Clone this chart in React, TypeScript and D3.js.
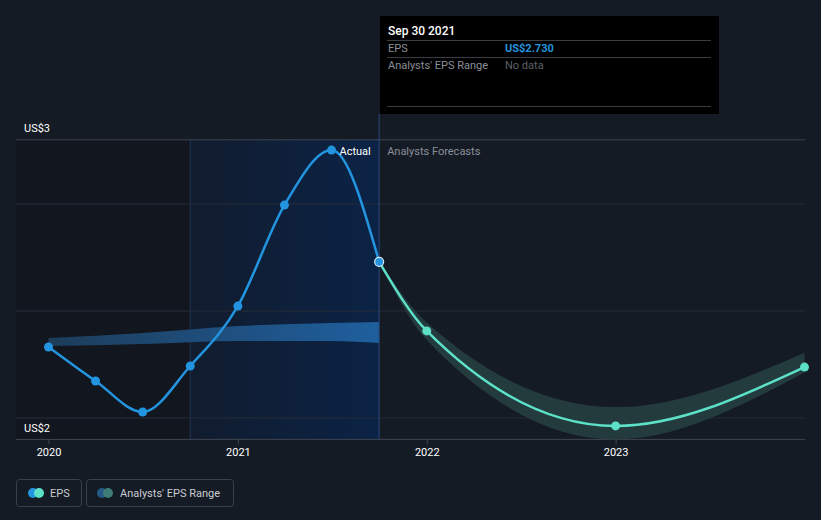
import React from "react";
import * as d3 from "d3";

const actualDates = ["2019-12-31", "2020-03-31", "2020-06-30", "2020-09-30", "2020-12-31", "2021-03-31", "2021-06-30", "2021-09-30"];
const actualEps = [2.332, 2.173, 2.028, 2.243, 2.523, 2.995, 3.252, 2.73];

const forecastDates = ["2021-09-30", "2021-12-31", "2022-12-31", "2023-12-31"];
const forecastEps = [2.73, 2.407, 1.963, 2.238];
const forecastLow = [2.73, 2.364, 1.9, 2.213];
const forecastHigh = [2.73, 2.446, 2.051, 2.305];

const pastRangeDates = ["2019-12-31", "2020-06-30", "2020-12-31", "2021-06-30", "2021-09-30"];
const pastRangeLow = [2.336, 2.346, 2.36, 2.36, 2.35];
const pastRangeHigh = [2.374, 2.397, 2.43, 2.444, 2.449];

const xTickYears = [2020, 2021, 2022, 2023];
const yGridValues = [2, 2.5, 3];
const yTickLabels = ["US$3", "US$2"];

const W = 821;
const H = 520;

const pd = (s: string) => new Date(s + "T00:00:00");

export default function App() {
  const x = d3.scaleTime().domain([new Date(2020, 0, 1), new Date(2024, 0, 1)]).range([49, 805]);
  const y = d3.scaleLinear().domain([2, 3]).range([418, 204]);
  const yTop = 3.3;
  const yBottom = 1.9;
  const left = 16;
  const right = 805;

  const line = d3.line<[Date, number]>().x(d => x(d[0])).y(d => y(d[1])).curve(d3.curveMonotoneX);
  const area = d3.area<[Date, number, number]>().x(d => x(d[0])).y0(d => y(d[1])).y1(d => y(d[2])).curve(d3.curveMonotoneX);

  const actualPts: [Date, number][] = actualDates.map((d, i) => [pd(d), actualEps[i]]);
  const fcPts: [Date, number][] = forecastDates.map((d, i) => [pd(d), forecastEps[i]]);
  const fcBand: [Date, number, number][] = forecastDates.map((d, i) => [pd(d), forecastLow[i], forecastHigh[i]]);
  const pastBand: [Date, number, number][] = pastRangeDates.map((d, i) => [pd(d), pastRangeLow[i], pastRangeHigh[i]]);

  const hlStart = x(pd("2020-09-30"));
  const hlEnd = x(pd("2021-09-30"));
  const yT = y(yTop);
  const yB = y(yBottom);
  const lastActual = actualPts[actualPts.length - 1];

  const font = "Roboto, 'Noto Sans', sans-serif";

  return (
    <svg width={W} height={H} style={{ position: "absolute", left: 0, top: 0, display: "block" }} fontFamily={font}>
      <defs>
        <linearGradient id="hl" x1="0" x2="1" y1="0" y2="0">
          <stop offset="0" stopColor="#111c2e" />
          <stop offset="1" stopColor="#0b2346" />
        </linearGradient>
        <linearGradient id="pastBand" gradientUnits="userSpaceOnUse" x1={x(pd(pastRangeDates[0]))} x2={hlEnd} y1="0" y2="0">
          <stop offset="0" stopColor="#1d3d5a" />
          <stop offset="1" stopColor="#1f5f9e" />
        </linearGradient>
      </defs>
      <rect x={0} y={0} width={W} height={H} fill="#151b25" />
      <rect x={left} y={yT} width={hlStart - left} height={yB - yT} fill="#12161e" />
      <rect x={hlStart} y={yT} width={hlEnd - hlStart} height={yB - yT} fill="url(#hl)" />
      <line x1={hlStart} x2={hlStart} y1={yT} y2={yB} stroke="#1d3658" strokeWidth={1} />

      {yGridValues.map(v => (
        <line key={v} x1={left} x2={right} y1={y(v)} y2={y(v)} stroke="#262d38" strokeWidth={1} />
      ))}
      <line x1={left} x2={right} y1={yT} y2={yT} stroke="#3f4550" strokeWidth={1} />
      <line x1={left} x2={right} y1={yB} y2={yB} stroke="#3f4550" strokeWidth={1} />

      {/* past analyst range */}
      <path d={area(pastBand) || ""} fill="url(#pastBand)" />

      {/* forecast band */}
      <path d={area(fcBand) || ""} fill="#243b3e" />

      <line x1={hlEnd} x2={hlEnd} y1={114} y2={yB} stroke="#2a4a78" strokeWidth={1} />

      <path d={line(fcPts) || ""} fill="none" stroke="#5ce0c8" strokeWidth={2.5} />
      <path d={line(actualPts) || ""} fill="none" stroke="#2394df" strokeWidth={2.5} />

      {actualPts.slice(0, -1).map((p, i) => (
        <circle key={i} cx={x(p[0])} cy={y(p[1])} r={4.5} fill="#2394df" />
      ))}
      {fcPts.slice(1).map((p, i) => (
        <circle key={i} cx={x(p[0])} cy={y(p[1])} r={4.5} fill="#5ce0c8" />
      ))}
      <circle cx={x(lastActual[0])} cy={y(lastActual[1])} r={4.5} fill="#2394df" stroke="#d6e6f5" strokeWidth={1.2} />

      <text x={x(pd(actualDates[6])) + 8} y={155} fill="#ffffff" fontSize={11}>Actual</text>
      <text x={hlEnd + 8} y={155} fill="#8a8f98" fontSize={11}>Analysts Forecasts</text>

      <text x={24} y={yT - 8} fill="#ffffff" fontSize={11}>{yTickLabels[0]}</text>
      <text x={24} y={y(2) + 14} fill="#ffffff" fontSize={11}>{yTickLabels[1]}</text>

      {xTickYears.map(yr => {
        const xx = x(new Date(yr, 0, 1));
        return (
          <g key={yr}>
            <line x1={xx} x2={xx} y1={yB} y2={yB + 5} stroke="#3f4550" />
            <text x={xx} y={456} fill="#ffffff" fontSize={11} textAnchor="middle">{yr}</text>
          </g>
        );
      })}

      {/* tooltip */}
      <rect x={380} y={16} width={339} height={98} fill="#000000" />
      <text x={388} y={35} fill="#ffffff" fontSize={12} fontWeight={500}>Sep 30 2021</text>
      <line x1={387} x2={711} y1={40.5} y2={40.5} stroke="#3a3d44" />
      <text x={388} y={52} fill="#8a8f98" fontSize={11}>EPS</text>
      <text x={505} y={52} fill="#2394df" fontSize={11} fontWeight={700}>US$2.730</text>
      <line x1={387} x2={711} y1={57.5} y2={57.5} stroke="#3a3d44" />
      <text x={388} y={69} fill="#8a8f98" fontSize={11}>Analysts' EPS Range</text>
      <text x={505} y={69} fill="#5d6168" fontSize={11}>No data</text>
      <line x1={387} x2={711} y1={106.5} y2={106.5} stroke="#3a3d44" />

      {/* legend */}
      <rect x={16.5} y={479.5} width={65} height={27} rx={3} fill="none" stroke="#3a404c" />
      <circle cx={33} cy={493} r={5} fill="#2394df" />
      <circle cx={39} cy={493} r={5} fill="#5ce0c8" />
      <text x={50} y={497} fill="#c9ccd1" fontSize={11}>EPS</text>
      <rect x={86.5} y={479.5} width={147} height={27} rx={3} fill="none" stroke="#3a404c" />
      <circle cx={102} cy={493} r={5} fill="#245a87" />
      <circle cx={108} cy={493} r={5} fill="#3f7c76" />
      <text x={120} y={497} fill="#c9ccd1" fontSize={11}>Analysts' EPS Range</text>
    </svg>
  );
}
